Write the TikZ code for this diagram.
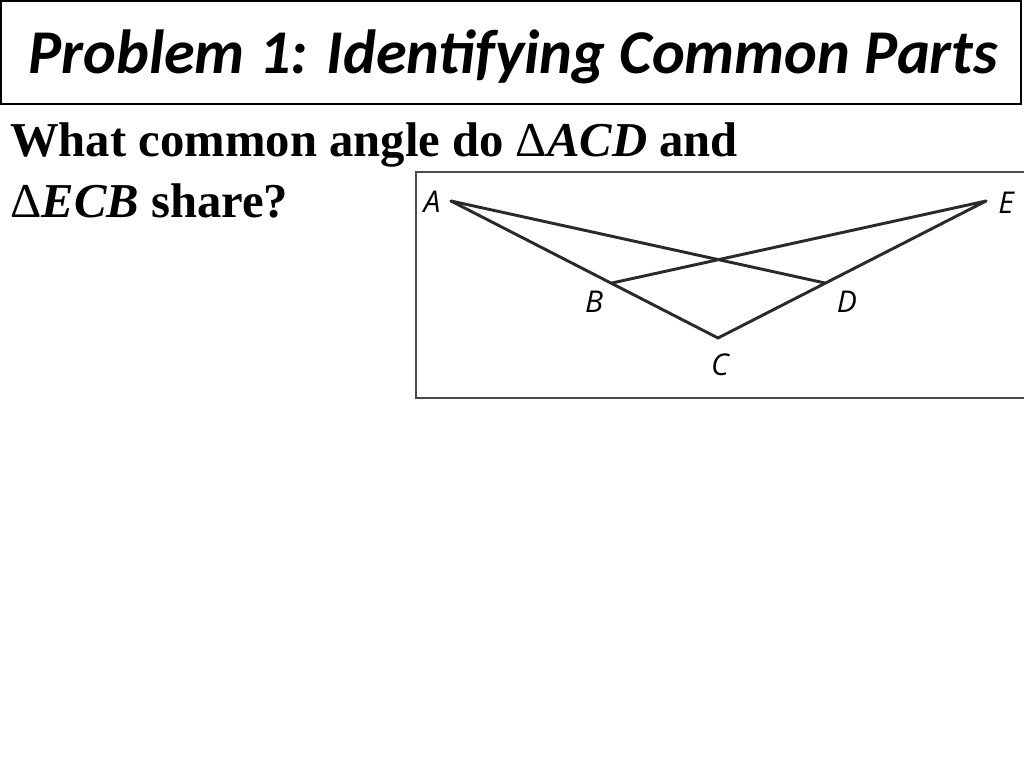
\documentclass[tikz,border=0pt]{standalone}
\usepackage{fontspec}
\setmainfont{Liberation Serif}
\newfontfamily\titlefont{Carlito}
\newfontfamily\labelfont{Open Sans}
\usepackage{xcolor}
\definecolor{figgray}{HTML}{2A2A2A}
\definecolor{boxgray}{HTML}{4A4A4A}

\begin{document}
\begin{tikzpicture}[x=0.75pt,y=0.75pt,yscale=-1,xscale=1,
  figline/.style={draw=figgray,line width=2.2pt,line cap=round,line join=round},
  ptlabel/.style={inner sep=0pt,font=\labelfont\itshape\fontsize{22.5}{27}\selectfont}]
        \useasboundingbox (0,0) rectangle (1024,768);
        \clip (0,0) rectangle (1024,768);

        %Shape: Rectangle [id:title box]
        \draw [line width=1.5pt] (1,1) rectangle (1021,104);
        % Text Node
        \draw (28,73) node (title) [anchor=base west][inner sep=0pt] {\titlefont\bfseries\itshape\fontsize{46.7}{56}\selectfont Problem 1: Identifying Common Parts};

        % Text Node
        \draw (10,156) node (qone) [anchor=base west][inner sep=0pt] {\bfseries\fontsize{36.5}{45}\selectfont What common angle do {\mdseries Δ}\textit{ACD} and};
        % Text Node
        \draw (10,217) node (qtwo) [anchor=base west][inner sep=0pt] {\bfseries\fontsize{36.5}{45}\selectfont {\mdseries Δ}\textit{ECB} share?};

        %Shape: Rectangle [id:figure box]
        \draw [draw=boxgray,line width=1.1pt] (416,172) rectangle (1040,398);

        % Points
        \coordinate (A) at (451,201);
        \coordinate (E) at (986,201);
        \coordinate (B) at (612,283);
        \coordinate (D) at (825,283);
        \coordinate (C) at (718,338);

        %Shape: Lines
        \draw [figline] (A) -- (C) -- (E);
        \draw [figline] (A) -- (D);
        \draw [figline] (E) -- (B);

        % Text Node
        \draw (432,202) node (labA) [ptlabel] {A};
        % Text Node
        \draw (1006,203) node (labE) [ptlabel] {E};
        % Text Node
        \draw (594,302) node (labB) [ptlabel] {B};
        % Text Node
        \draw (847,302) node (labD) [ptlabel] {D};
        % Text Node
        \draw (720,365) node (labC) [ptlabel] {C};

\end{tikzpicture}
\end{document}
